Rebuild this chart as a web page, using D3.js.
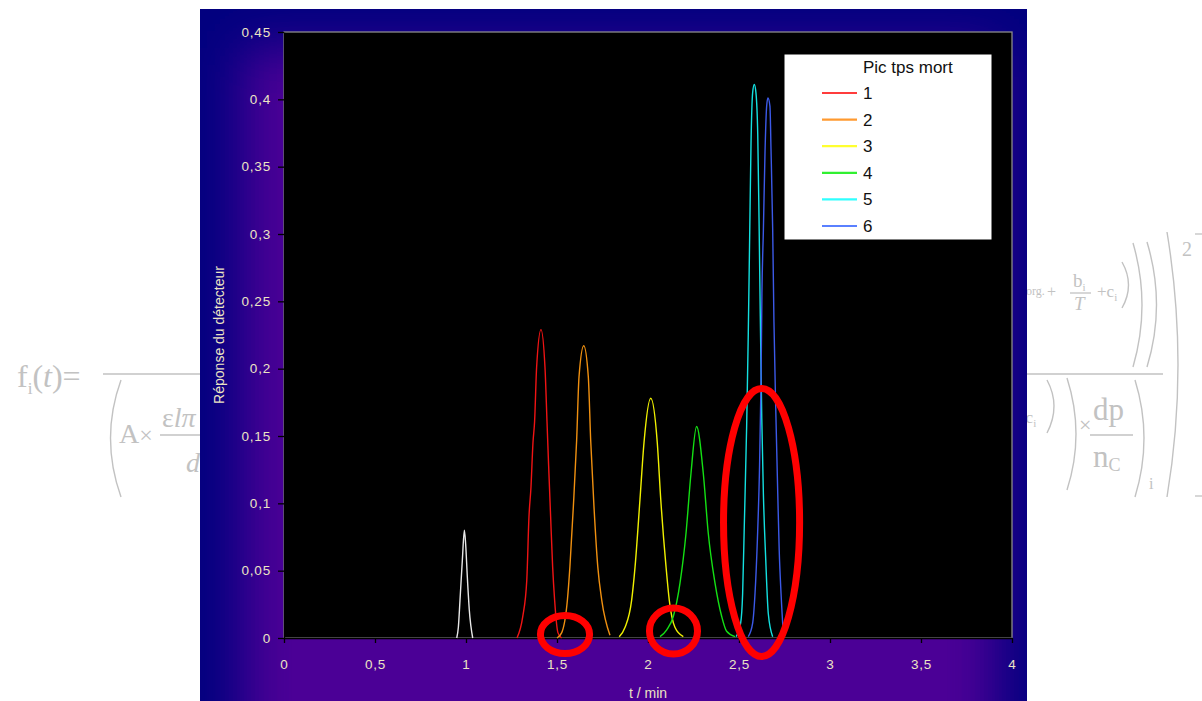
<!DOCTYPE html>
<html>
<head>
<meta charset="utf-8">
<script src="https://cdn.jsdelivr.net/npm/d3@7"></script>
<style>
  body { margin:0; background:#fff; }
  svg { display:block; }
</style>
</head>
<body>
<div id="chart"></div>
<script>
// ---- data ----
let xTickValues = [0, 0.5, 1, 1.5, 2, 2.5, 3, 3.5, 4];
let xTickLabels = ["0", "0,5", "1", "1,5", "2", "2,5", "3", "3,5", "4"];
let yTickValues = [0, 0.05, 0.1, 0.15, 0.2, 0.25, 0.3, 0.35, 0.4, 0.45];
let yTickLabels = ["0", "0,05", "0,1", "0,15", "0,2", "0,25", "0,3", "0,35", "0,4", "0,45"];

let seriesNames = ["1", "2", "3", "4", "5", "6"];
let legendTitle = "Pic tps mort";

// dead-time peak (white, not in legend)
let t0 = [0.949, 0.958, 0.967, 0.980, 0.991, 0.998, 1.007, 1.018, 1.037];
let r0 = [0, 0.008, 0.028, 0.058, 0.080, 0.070, 0.046, 0.021, 0];

let t1 = [1.280, 1.312, 1.334, 1.346, 1.357, 1.368, 1.377, 1.388, 1.412, 1.434, 1.445, 1.454, 1.465, 1.476, 1.487, 1.505, 1.525];
let r1 = [0, 0.016, 0.043, 0.090, 0.112, 0.145, 0.161, 0.201, 0.229, 0.201, 0.161, 0.128, 0.090, 0.053, 0.028, 0.004, 0];

let t2 = [1.500, 1.526, 1.557, 1.571, 1.590, 1.608, 1.621, 1.647, 1.672, 1.685, 1.703, 1.724, 1.746, 1.791];
let r2 = [0, 0.004, 0.028, 0.053, 0.098, 0.147, 0.194, 0.217, 0.194, 0.147, 0.098, 0.053, 0.028, 0.002];

let t3 = [1.842, 1.874, 1.910, 1.929, 1.956, 1.978, 2.015, 2.051, 2.070, 2.099, 2.117, 2.148, 2.194];
let r3 = [0.001, 0.008, 0.028, 0.053, 0.103, 0.145, 0.178, 0.145, 0.103, 0.053, 0.028, 0.008, 0.001];

let t4 = [2.066, 2.103, 2.139, 2.176, 2.209, 2.236, 2.267, 2.304, 2.331, 2.368, 2.405, 2.432, 2.478];
let r4 = [0.001, 0.006, 0.016, 0.041, 0.078, 0.122, 0.157, 0.122, 0.078, 0.041, 0.016, 0.005, 0.001];

let t5 = [2.484, 2.509, 2.520, 2.529, 2.542, 2.551, 2.559, 2.566, 2.575, 2.584, 2.593, 2.603, 2.610, 2.617, 2.625, 2.634, 2.647, 2.661, 2.685];
let r5 = [0.001, 0.011, 0.033, 0.083, 0.157, 0.226, 0.302, 0.367, 0.405, 0.411, 0.405, 0.374, 0.312, 0.239, 0.164, 0.107, 0.058, 0.018, 0.001];

let t6 = [2.551, 2.575, 2.588, 2.601, 2.612, 2.621, 2.626, 2.634, 2.643, 2.652, 2.659, 2.670, 2.676, 2.685, 2.692, 2.703, 2.713, 2.721, 2.731, 2.743];
let r6 = [0.001, 0.011, 0.033, 0.073, 0.122, 0.190, 0.256, 0.303, 0.361, 0.395, 0.401, 0.395, 0.362, 0.304, 0.235, 0.164, 0.107, 0.065, 0.033, 0.004];

// red hand-drawn rings: centre and radii in chart units (t, response)
let ringT  = [1.544, 2.140, 2.624];
let ringR  = [0.0026, 0.0052, 0.0858];
let ringRT = [0.135, 0.132, 0.209];
let ringRR = [0.0141, 0.0171, 0.0995];

// ---- styling ----
let screen = {width:1202, height:701};
let plot = {left:284, right:1012, top:32, bottom:638};
let panel = {x:200, y:9, w:827, h:720};
let peakColors = ["#e8e8e8", "#f01414", "#f09010", "#f0f000", "#14e014", "#14e0e0", "#3c5ae8"];
let legendColors = ["#ff3c3c", "#ff9a30", "#ffff30", "#30f030", "#30ffff", "#5a80ff"];
let tickColor = "#ece4c4";
let formulaGrey = "#c2c2c2";

let peaks = [[t0,r0],[t1,r1],[t2,r2],[t3,r3],[t4,r4],[t5,r5],[t6,r6]].map(function(p){
    return p[0].map(function(t,i){ return {t:t, r:p[1][i]}; });
});

let svg = d3.select("#chart").append("svg")
    .attr("width", screen.width)
    .attr("height", screen.height);
let defs = svg.append("defs");

svg.append("rect").attr("width", screen.width).attr("height", screen.height).attr("fill", "#fff");

// ---- background formula (partly hidden by the chart) ----
let fm = svg.append("g")
    .attr("font-family", "'Liberation Serif', 'Times New Roman', serif")
    .attr("fill", formulaGrey);
let paren = function(d){
    fm.append("path").attr("d", d).attr("fill", "none").attr("stroke", formulaGrey).attr("stroke-width", 1.4);
};
let bar = function(x1, x2, y){
    fm.append("line").attr("x1", x1).attr("x2", x2).attr("y1", y).attr("y2", y)
        .attr("stroke", formulaGrey).attr("stroke-width", 1.3);
};

let fl = fm.append("text").attr("x", 17).attr("y", 387).attr("font-size", 32);
fl.append("tspan").text("f");
fl.append("tspan").attr("font-size", 17).attr("dy", 7).text("i");
fl.append("tspan").attr("dy", -7).text("(");
fl.append("tspan").attr("font-style", "italic").text("t");
fl.append("tspan").text(")=");
bar(103, 215, 374);
paren("M121,380 Q100,438 121,497");
let ax = fm.append("text").attr("x", 119).attr("y", 443).attr("font-size", 28);
ax.append("tspan").text("A");
ax.append("tspan").attr("font-size", 24).text("×");
fm.append("text").attr("x", 162).attr("y", 427).attr("font-size", 28).text("ε")
    .append("tspan").attr("font-style", "italic").text("lπ");
bar(160, 215, 435);
fm.append("text").attr("x", 186).attr("y", 472).attr("font-size", 28).attr("font-style", "italic").text("d");

fm.append("text").attr("x", 1026).attr("y", 295).attr("font-size", 12).text("org.");
fm.append("text").attr("x", 1047).attr("y", 297).attr("font-size", 16).text("+");
let bi = fm.append("text").attr("x", 1073).attr("y", 287).attr("font-size", 19);
bi.append("tspan").text("b");
bi.append("tspan").attr("font-size", 11).attr("dy", 4).text("i");
bar(1070, 1091, 293);
fm.append("text").attr("x", 1074).attr("y", 310).attr("font-size", 19).attr("font-style", "italic").text("T");
let ci = fm.append("text").attr("x", 1097).attr("y", 297).attr("font-size", 17);
ci.append("tspan").text("+c");
ci.append("tspan").attr("font-size", 11).attr("dy", 4).text("i");
paren("M1122,262 Q1135,285 1122,308");
paren("M1133,243 Q1151,305 1133,367");
paren("M1147,242 Q1166,305 1147,367");
bar(1027, 1163, 374);
let ci2 = fm.append("text").attr("x", 1016).attr("y", 423).attr("font-size", 17);
ci2.append("tspan").text("+c");
ci2.append("tspan").attr("font-size", 11).attr("dy", 4).text("i");
paren("M1047,380 Q1061,406 1047,433");
paren("M1067,378 Q1085,434 1067,490");
fm.append("text").attr("x", 1079).attr("y", 432).attr("font-size", 22).text("×");
fm.append("text").attr("x", 1093).attr("y", 420).attr("font-size", 31).text("dp");
bar(1090, 1133, 435);
let nc = fm.append("text").attr("x", 1093).attr("y", 467).attr("font-size", 31);
nc.append("tspan").text("n");
nc.append("tspan").attr("font-size", 18).attr("dy", 4).text("C");
paren("M1135,380 Q1153,438 1135,497");
fm.append("text").attr("x", 1149).attr("y", 489).attr("font-size", 16).text("i");
paren("M1167,232 Q1189,365 1167,497");
fm.append("text").attr("x", 1182).attr("y", 256).attr("font-size", 20).text("2");
bar(1195, 1202, 234);
bar(1195, 1202, 496);

// ---- chart panel with purple-to-navy gradient ----
defs.append("clipPath").attr("id", "panelClip")
    .append("rect").attr("x", panel.x).attr("y", panel.y).attr("width", panel.w).attr("height", panel.h);
defs.append("filter").attr("id", "soft")
    .attr("filterUnits", "userSpaceOnUse")
    .attr("x", 0).attr("y", -200).attr("width", 1400).attr("height", 1200)
    .append("feGaussianBlur").attr("stdDeviation", 26);

let panelG = svg.append("g").attr("clip-path", "url(#panelClip)");
panelG.append("rect")
    .attr("x", panel.x).attr("y", panel.y).attr("width", panel.w).attr("height", panel.h)
    .attr("fill", "#02007f");
panelG.append("rect")
    .attr("x", 242).attr("y", 48).attr("width", 755).attr("height", 720)
    .attr("fill", "#4c0096")
    .attr("filter", "url(#soft)");

// ---- scales and plot area ----
let xScale = d3.scaleLinear().domain([0, 4]).range([plot.left, plot.right]);
let yScale = d3.scaleLinear().domain([0, 0.45]).range([plot.bottom, plot.top]);

svg.append("rect")
    .attr("x", plot.left).attr("y", plot.top)
    .attr("width", plot.right - plot.left).attr("height", plot.bottom - plot.top)
    .attr("fill", "#000")
    .attr("stroke", "#8a8a8a")
    .attr("stroke-width", 1.3);

let xAxis = svg.append("g")
    .attr("transform", "translate(0," + plot.bottom + ")")
    .call(d3.axisBottom(xScale).tickValues(xTickValues).tickSize(5).tickSizeOuter(0).tickPadding(16)
        .tickFormat(function(d,i){ return xTickLabels[i]; }));
let yAxis = svg.append("g")
    .attr("transform", "translate(" + plot.left + ",0)")
    .call(d3.axisLeft(yScale).tickValues(yTickValues).tickSize(6).tickSizeOuter(0).tickPadding(7)
        .tickFormat(function(d,i){ return yTickLabels[i]; }));

[xAxis, yAxis].forEach(function(a){
    a.select(".domain").attr("stroke", "#000").attr("stroke-width", 1.3);
    a.selectAll(".tick line").attr("stroke", "#000").attr("stroke-width", 1.3);
    a.selectAll(".tick text")
        .attr("fill", tickColor)
        .attr("font-family", "'Liberation Sans', Arial, sans-serif")
        .attr("font-size", 13.5)
        .attr("letter-spacing", 0.8);
});

svg.append("text")
    .attr("transform", "translate(224," + ((plot.top + plot.bottom) / 2) + ") rotate(-90)")
    .attr("text-anchor", "middle")
    .attr("fill", tickColor)
    .attr("font-family", "'Liberation Sans', Arial, sans-serif")
    .attr("font-size", 14)
    .text("Réponse du détecteur");
svg.append("text")
    .attr("x", (plot.left + plot.right) / 2).attr("y", 698)
    .attr("text-anchor", "middle")
    .attr("fill", tickColor)
    .attr("font-family", "'Liberation Sans', Arial, sans-serif")
    .attr("font-size", 14)
    .text("t / min");

// ---- peaks ----
let line = d3.line()
    .x(function(d){ return xScale(d.t); })
    .y(function(d){ return yScale(d.r); })
    .curve(d3.curveMonotoneX);

svg.append("g").selectAll("path")
    .data(peaks)
    .enter()
    .append("path")
    .attr("d", line)
    .attr("fill", "none")
    .attr("stroke", function(d,i){ return peakColors[i]; })
    .attr("stroke-width", 1.4);

// ---- legend ----
let legend = svg.append("g").attr("font-family", "'Liberation Sans', Arial, sans-serif");
legend.append("rect")
    .attr("x", 784).attr("y", 54).attr("width", 208).attr("height", 186)
    .attr("fill", "#fff").attr("stroke", "#000");
legend.append("text")
    .attr("x", 863).attr("y", 73)
    .attr("font-size", 17).attr("fill", "#111")
    .text(legendTitle);
let entry = legend.selectAll("g.entry")
    .data(seriesNames)
    .enter()
    .append("g")
    .attr("class", "entry")
    .attr("transform", function(d,i){ return "translate(0," + (i * 26.6) + ")"; });
entry.append("line")
    .attr("x1", 822).attr("x2", 857).attr("y1", 93).attr("y2", 93)
    .attr("stroke", function(d,i){ return legendColors[i]; })
    .attr("stroke-width", 2.2);
entry.append("text")
    .attr("x", 863).attr("y", 99)
    .attr("font-size", 17).attr("fill", "#111")
    .text(function(d){ return d; });

// ---- red rings drawn over the chart ----
svg.append("g").selectAll("ellipse")
    .data(ringT)
    .enter()
    .append("ellipse")
    .attr("cx", function(d){ return xScale(d); })
    .attr("cy", function(d,i){ return yScale(ringR[i]); })
    .attr("rx", function(d,i){ return xScale(ringRT[i]) - xScale(0); })
    .attr("ry", function(d,i){ return yScale(0) - yScale(ringRR[i]); })
    .attr("fill", "none")
    .attr("stroke", "#ff0000")
    .attr("stroke-width", 7);
</script>
</body>
</html>
